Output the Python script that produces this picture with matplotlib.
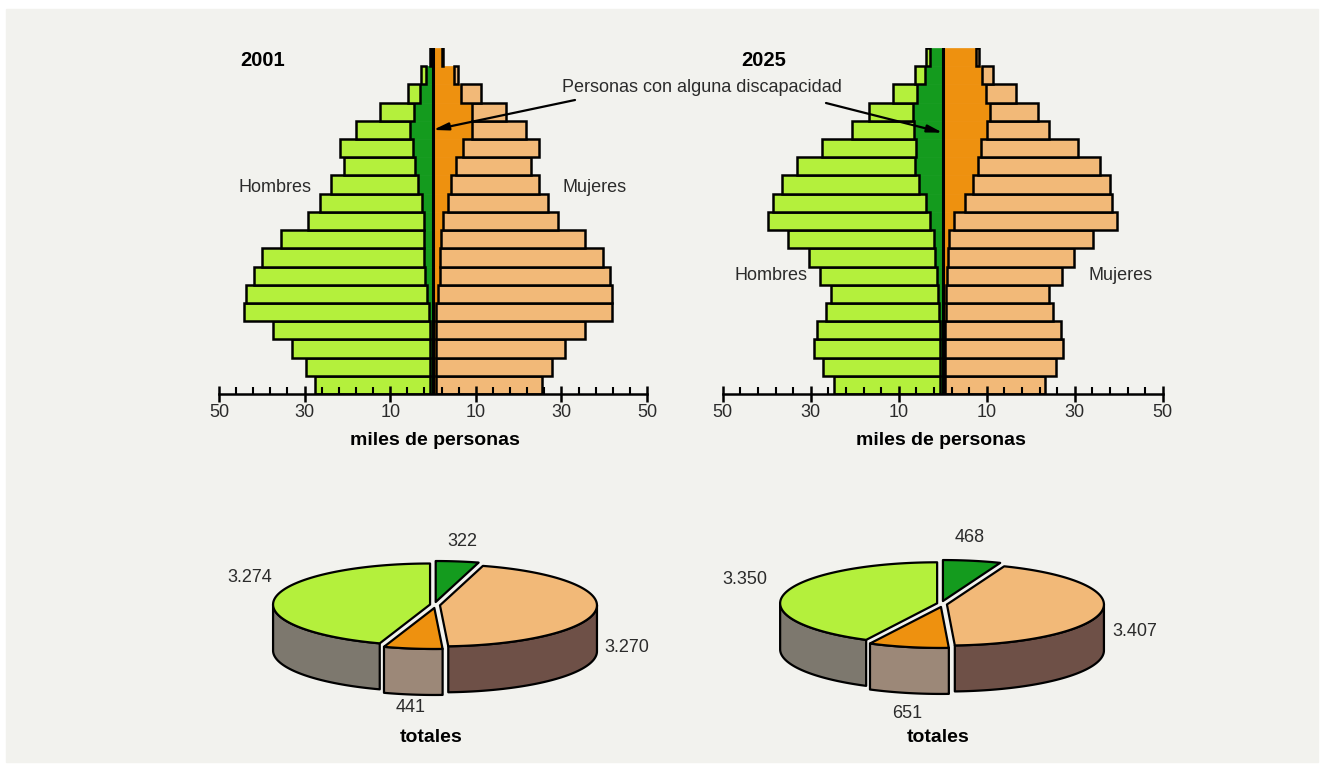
import numpy as np
import matplotlib.pyplot as plt
from matplotlib.patches import Polygon, Rectangle

plt.rcParams['font.family'] = ['Liberation Sans', 'DejaVu Sans']

W, H = 1326, 769

# age groups, youngest first (bottom of the pyramid)
age_groups = ['0-4', '5-9', '10-14', '15-19', '20-24', '25-29', '30-34',
              '35-39', '40-44', '45-49', '50-54', '55-59', '60-64', '65-69',
              '70-74', '75-79', '80-84', '85-89', '90+']

# miles de personas
men_2001 = [27.6, 29.7, 32.9, 37.5, 44.2, 43.6, 41.8, 40.0, 35.6, 29.2,
            26.3, 23.9, 20.8, 21.8, 17.9, 12.4, 5.8, 2.9, 0.8]
men_dis_2001 = [0.6, 0.6, 0.6, 0.8, 1.0, 1.4, 1.9, 2.1, 2.1, 2.1,
                2.6, 3.5, 4.1, 4.7, 5.4, 4.5, 3.1, 1.6, 0.3]
women_2001 = [25.5, 27.7, 30.9, 35.6, 41.8, 41.8, 41.3, 39.7, 35.4, 29.2,
              26.9, 24.7, 22.8, 24.7, 21.8, 17.0, 11.1, 5.9, 2.4]
women_dis_2001 = [0.6, 0.6, 0.6, 0.6, 0.8, 1.2, 1.6, 1.6, 1.8, 2.3,
                  3.5, 4.3, 5.3, 7.0, 9.0, 9.0, 6.5, 4.9, 2.0]

men_2025 = [24.7, 27.1, 29.2, 28.5, 26.6, 25.4, 28.0, 30.5, 35.1, 39.6,
            38.5, 36.5, 33.2, 27.4, 20.7, 16.7, 11.2, 6.3, 3.8]
men_dis_2025 = [0.6, 0.6, 0.6, 0.7, 0.8, 1.0, 1.4, 1.8, 2.0, 2.8,
                3.9, 5.3, 6.3, 6.1, 6.5, 6.8, 5.8, 4.0, 2.9]
women_2025 = [23.3, 25.8, 27.4, 26.8, 25.1, 24.2, 27.0, 29.8, 34.2, 39.5,
              38.4, 38.0, 35.8, 30.7, 24.2, 21.7, 16.6, 11.4, 8.3]
women_dis_2025 = [0.6, 0.6, 0.6, 0.6, 0.7, 0.8, 0.9, 1.3, 1.5, 2.5,
                  5.1, 6.8, 8.1, 8.6, 10.0, 10.8, 9.8, 9.0, 7.6]

# totales: hombres con discapacidad, mujeres, mujeres con discapacidad, hombres
pie_labels = ['Hombres con discapacidad', 'Mujeres', 'Mujeres con discapacidad', 'Hombres']
totals_2001 = [322, 3270, 441, 3274]
totals_2025 = [468, 3407, 651, 3350]

LIGHT_GREEN = '#b4f03c'
DARK_GREEN = '#149b1e'
LIGHT_ORANGE = '#f2b978'
DARK_ORANGE = '#ee910f'
BG = '#f2f2ee'
TXT = '#2b2b2b'

pie_colors = [DARK_GREEN, LIGHT_ORANGE, DARK_ORANGE, LIGHT_GREEN]
side_colors = ['#2d5a2d', '#6e5047', '#9c8878', '#7d786e']


def fx(x):
    return x / W


def fy(y):
    return 1 - y / H


def draw_pyramid(ax, men, men_dis, women, women_dis):
    y = np.arange(len(age_groups))
    men, men_dis = np.array(men), np.array(men_dis)
    women, women_dis = np.array(women), np.array(women_dis)
    ax.barh(y, -men_dis, height=1.0, color=DARK_GREEN, edgecolor=DARK_GREEN, lw=0.5)
    ax.barh(y, -(men - men_dis), left=-men_dis, height=1.0, color=LIGHT_GREEN,
            edgecolor='black', lw=1.8)
    ax.barh(y, women_dis, height=1.0, color=DARK_ORANGE, edgecolor=DARK_ORANGE, lw=0.5)
    ax.barh(y, women - women_dis, left=women_dis, height=1.0, color=LIGHT_ORANGE,
            edgecolor='black', lw=1.8)
    ax.plot([0, 0], [-0.5, len(age_groups) - 0.5], color='black', lw=2.2)

    ax.set_xlim(-50, 50)
    ax.set_ylim(-0.5, len(age_groups) - 0.5)
    ax.patch.set_visible(False)
    for s in ['left', 'right', 'top']:
        ax.spines[s].set_visible(False)
    ax.spines['bottom'].set_linewidth(1.8)
    ax.set_yticks([])
    ax.set_xticks([-50, -30, -10, 10, 30, 50])
    ax.set_xticklabels(['50', '30', '10', '10', '30', '50'])
    ax.set_xticks(np.arange(-50, 51, 4), minor=True)
    ax.tick_params(axis='x', which='major', direction='inout', length=12, width=1.8,
                   labelsize=13, labelcolor=TXT, pad=1)
    ax.tick_params(axis='x', which='minor', direction='in', length=5, width=1.5)


def draw_pie3d(ax, values, R=157, r=41, depth=46, explode=5, squash=0.6):
    total = sum(values)
    bounds = np.concatenate([[0], np.cumsum(values)]) / total * 360
    wedges = []
    for i in range(len(values)):
        a1, a2 = bounds[i], bounds[i + 1]
        mid = np.radians((a1 + a2) / 2)
        wedges.append((a1, a2, explode * np.sin(mid), squash * explode * np.cos(mid)))

    # side walls on the front half of the rim
    for i, (a1, a2, ox, oy) in enumerate(wedges):
        lo, hi = max(a1, 90), min(a2, 270)
        if hi <= lo:
            continue
        t = np.radians(np.linspace(lo, hi, 80))
        xs = ox + R * np.sin(t)
        ys = oy + r * np.cos(t)
        pts = np.concatenate([np.c_[xs, ys], np.c_[xs[::-1], ys[::-1] - depth]])
        ax.add_patch(Polygon(pts, closed=True, fc=side_colors[i], ec='black',
                             lw=1.6, joinstyle='round'))

    # top faces
    for i, (a1, a2, ox, oy) in enumerate(wedges):
        t = np.radians(np.linspace(a1, a2, 120))
        pts = np.vstack([[ox, oy], np.c_[ox + R * np.sin(t), oy + r * np.cos(t)]])
        ax.add_patch(Polygon(pts, closed=True, fc=pie_colors[i], ec='black',
                             lw=1.6, joinstyle='round'))

    ax.set_xlim(-260, 260)
    ax.set_ylim(-150, 150)
    ax.set_aspect('equal')
    ax.axis('off')


def fmt(v):
    return f'{v:,}'.replace(',', '.')


fig = plt.figure(figsize=(W / 100, H / 100), dpi=100)
fig.patches.append(Rectangle((fx(6), fy(762)), (1318 - 6) / W, (762 - 9) / H,
                             transform=fig.transFigure, color=BG, zorder=-10))

# pyramids: x pixel span of -50..50, bottom axis at y=394, top of bars at y=48
pyr_boxes = [(219, 647), (722.7, 1162.7)]
axes = []
for (x0, x1) in pyr_boxes:
    ax = fig.add_axes([fx(x0), fy(394), (x1 - x0) / W, (394 - 48) / H])
    axes.append(ax)

draw_pyramid(axes[0], men_2001, men_dis_2001, women_2001, women_dis_2001)
draw_pyramid(axes[1], men_2025, men_dis_2025, women_2025, women_dis_2025)

fig.text(fx(240), fy(61), '2001', fontsize=14.5, fontweight='bold', va='center', color='black')
fig.text(fx(741), fy(61), '2025', fontsize=14.5, fontweight='bold', va='center', color='black')
fig.text(fx(239), fy(188), 'Hombres', fontsize=13, va='center', color=TXT)
fig.text(fx(563), fy(188), 'Mujeres', fontsize=13, va='center', color=TXT)
fig.text(fx(734), fy(275), 'Hombres', fontsize=13, va='center', color=TXT)
fig.text(fx(1089), fy(275), 'Mujeres', fontsize=13, va='center', color=TXT)
for cx in [435, 941]:
    fig.text(fx(cx), fy(440), 'miles de personas', fontsize=14, fontweight='bold',
             ha='center', va='center', color='black')

fig.text(fx(562), fy(88), 'Personas con alguna discapacidad', fontsize=13,
         va='center', color=TXT)
arrow = dict(arrowstyle='-|>,head_length=0.9,head_width=0.22', color='black', lw=1.6,
             shrinkA=0, shrinkB=0)
axes[0].annotate('', xy=(0, 14.0), xycoords='data', xytext=(575, H - 100),
                 textcoords='figure pixels', arrowprops=arrow)
axes[1].annotate('', xy=(0, 13.85), xycoords='data', xytext=(826, H - 103),
                 textcoords='figure pixels', arrowprops=arrow)

# 3D pies with totals
pie_centers = [(435, 605), (942, 604)]
label_offsets = [
    [(27, 64), (192, -43), (-24, -103), (-185, 27)],
    [(28, 67), (193, -28), (-35, -109), (-197, 25)],
]
for (cx, cy), vals, offs in zip(pie_centers, [totals_2001, totals_2025], label_offsets):
    pax = fig.add_axes([fx(cx - 260), fy(cy + 150), 520 / W, 300 / H])
    draw_pie3d(pax, vals)
    for v, (dx, dy) in zip(vals, offs):
        pax.text(dx, dy, fmt(v), fontsize=13, ha='center', va='center', color=TXT)
    pax.text(-4, -133, 'totales', fontsize=14, fontweight='bold', ha='center',
             va='center', color='black')

fig.savefig('out.png', dpi=100, facecolor='white')
